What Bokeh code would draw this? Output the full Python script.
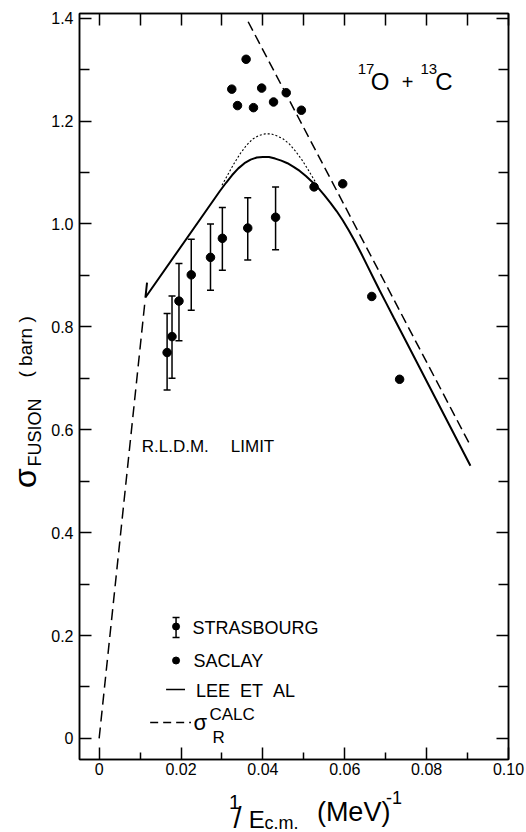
import math
from bokeh.plotting import figure
from bokeh.layouts import row, column
from bokeh.models import Range1d, LinearAxis, FixedTicker, Label
from bokeh.core.properties import value
from bokeh.embed import file_html
from bokeh.resources import INLINE

# ---------------- data ----------------
stras_x = [0.0166, 0.0178, 0.0195, 0.0225, 0.0272, 0.0301, 0.0363, 0.0431]
stras_y = [0.750, 0.781, 0.850, 0.901, 0.935, 0.972, 0.992, 1.013]
stras_hi = [0.826, 0.860, 0.923, 0.970, 1.000, 1.032, 1.051, 1.072]
stras_lo = [0.677, 0.700, 0.773, 0.832, 0.871, 0.910, 0.930, 0.950]

saclay_x = [0.0324, 0.0338, 0.0359, 0.0377, 0.0397, 0.0426, 0.0457, 0.0494,
            0.0525, 0.0595, 0.0666, 0.0734]
saclay_y = [1.262, 1.230, 1.320, 1.226, 1.264, 1.237, 1.255, 1.221,
            1.072, 1.078, 0.859, 0.698]

lee_x = [0.0117, 0.0113, 0.0295, 0.0310, 0.0325, 0.0340, 0.0355, 0.0370,
         0.0385, 0.0400, 0.0415, 0.0430, 0.0445, 0.0460, 0.0475, 0.0490,
         0.0505, 0.0520, 0.0535, 0.0550, 0.0565, 0.0580, 0.0595, 0.0610,
         0.0625, 0.0640, 0.0655, 0.0670, 0.0685, 0.0700, 0.0720, 0.0741, 0.0907]
lee_y = [0.886, 0.857, 1.064, 1.080, 1.095, 1.108, 1.118, 1.125,
         1.129, 1.130, 1.130, 1.127, 1.123, 1.118, 1.111, 1.103,
         1.093, 1.082, 1.070, 1.056, 1.041, 1.025, 1.007, 0.987,
         0.966, 0.943, 0.919, 0.895, 0.871, 0.848, 0.817, 0.785, 0.530]

dot_x = [0.0300, 0.0316, 0.0330, 0.0345, 0.0360, 0.0375, 0.0390, 0.0405,
         0.0420, 0.0435, 0.0450, 0.0465, 0.0480, 0.0495, 0.0510, 0.0525, 0.0535]
dot_y = [1.075, 1.098, 1.118, 1.137, 1.153, 1.165, 1.172, 1.175,
         1.175, 1.171, 1.165, 1.155, 1.141, 1.125, 1.106, 1.086, 1.072]

sigr_x = [0.0364, 0.0907]
sigr_y = [1.393, 0.569]

rldm_x = [0.0, 0.0112]
rldm_y = [0.0, 0.850]

x_ticks = [0.0, 0.02, 0.04, 0.06, 0.08, 0.10]
x_tick_labels = ["0", "0.02", "0.04", "0.06", "0.08", "0.10"]
x_minor = [0.01, 0.03, 0.05, 0.07, 0.09]
y_ticks = [0.0, 0.2, 0.4, 0.6, 0.8, 1.0, 1.2, 1.4]
y_tick_labels = ["0", "0.2", "0.4", "0.6", "0.8", "1.0", "1.2", "1.4"]
y_minor = [0.1, 0.3, 0.5, 0.7, 0.9, 1.1, 1.3]

# ---------------- layout ----------------
XMIN, XMAX = -0.0048, 0.1
YMIN, YMAX = -0.041, 1.409
PAGE_W, PAGE_H = 526, 832
LEFT_W = 48
MAIN_W = PAGE_W - LEFT_W          # 478
MAIN_H = 780
BOT_H = PAGE_H - MAIN_H           # 52
BL, BR, BT, BB = 29, 18, 13, 21
FL, FT = LEFT_W + BL, BT          # frame left/top in page pixels
FW, FH = MAIN_W - BL - BR, MAIN_H - BT - BB
FONT = "Liberation Sans"


def px2x(sx):
    return XMIN + (sx - FL) / FW * (XMAX - XMIN)


def px2y(sy):
    return YMAX - (sy - FT) / FH * (YMAX - YMIN)


p = figure(width=MAIN_W, height=MAIN_H, x_range=Range1d(XMIN, XMAX),
           y_range=Range1d(YMIN, YMAX), output_backend="svg", toolbar_location=None,
           min_border_left=BL, min_border_right=BR, min_border_top=BT, min_border_bottom=BB)
p.grid.visible = False
p.outline_line_color = "black"
p.outline_line_width = 1.5
p.background_fill_color = "white"
p.border_fill_color = "white"


def style(ax, ticks, minor, labels, tick_len, minor_len, show_labels):
    ax.ticker = FixedTicker(ticks=ticks, minor_ticks=minor)
    ax.axis_line_color = "black"
    ax.axis_line_width = 1.5
    ax.major_tick_in = tick_len
    ax.major_tick_out = 0
    ax.minor_tick_in = minor_len
    ax.minor_tick_out = 0
    ax.major_tick_line_width = 1.5
    ax.minor_tick_line_width = 1.5
    ax.major_tick_line_color = "black"
    ax.minor_tick_line_color = "black"
    ax.major_label_text_font = FONT
    ax.major_label_text_color = "black"
    if show_labels:
        ax.major_label_overrides = {t: l for t, l in zip(ticks, labels)}
        ax.major_label_text_font_size = "16px"
    else:
        ax.major_label_overrides = {t: "" for t in ticks}
        ax.major_label_text_font_size = "1px"
        ax.major_label_standoff = 0


xb = p.xaxis[0]
style(xb, x_ticks, x_minor, x_tick_labels, 12, 7, True)
xb.major_label_standoff = 3
yl = p.yaxis[0]
style(yl, y_ticks, y_minor, y_tick_labels, 12, 10, True)
yl.major_label_standoff = 6

xt = LinearAxis()
style(xt, sorted(x_ticks + x_minor), [], None, 12, 0, False)
p.add_layout(xt, "above")
yr = LinearAxis()
style(yr, y_ticks, y_minor, None, 12, 10, False)
p.add_layout(yr, "right")

# ---------------- curves ----------------
p.line(rldm_x, rldm_y, line_color="black", line_width=1.5, line_dash="11 6")
p.line(sigr_x, sigr_y, line_color="black", line_width=1.5, line_dash="10 5")
p.line(dot_x, dot_y, line_color="black", line_width=1.1, line_dash="2 2")
p.line(lee_x, lee_y, line_color="black", line_width=2)

# Strasbourg with error bars
p.segment(stras_x, stras_lo, stras_x, stras_hi, line_color="black", line_width=1.5)
p.scatter(stras_x, stras_hi, marker="dash", size=7, line_color="black", line_width=1.5)
p.scatter(stras_x, stras_lo, marker="dash", size=7, line_color="black", line_width=1.5)
p.scatter(stras_x, stras_y, size=8.5, color="black")

# Saclay
p.scatter(saclay_x, saclay_y, size=8.5, color="black")

# ---------------- legend (manual) ----------------
lx = px2x(174)
p.segment([lx], [px2y(637)], [lx], [px2y(617)], line_color="black", line_width=1.5)
p.scatter([lx, lx], [px2y(617), px2y(637)], marker="dash", size=7, line_color="black", line_width=1.5)
p.scatter([lx], [px2y(626)], size=7, color="black")
p.scatter([lx], [px2y(660)], size=7, color="black")
p.line([px2x(164), px2x(183)], [px2y(689), px2y(689)], line_color="black", line_width=1.5)
p.line([px2x(148), px2x(189)], [px2y(722), px2y(722)], line_color="black", line_width=1.5,
       line_dash="8 5")


def lab(sx, sy, txt, size, align="left", baseline="middle"):
    p.add_layout(Label(x=px2x(sx), y=px2y(sy), text=txt, text_font=FONT,
                       text_font_size=f"{size}px", text_align=align,
                       text_baseline=baseline, text_color="black"))


lab(190.5, 627, "STRASBOURG", 18)
lab(191.5, 660, "SACLAY", 18)
lab(194, 690, "LEE\u00a0\u00a0ET\u00a0\u00a0AL", 18)
lab(191.5, 722, "σ", 22)
lab(207.5, 714, "CALC", 17)
lab(210.5, 737, "R", 17)

# reaction label
lab(356.5, 68, "17", 15)
lab(369.5, 81, "O", 24)
lab(406.5, 81, "+", 20, align="center")
lab(419.5, 68, "13", 15)
lab(434.5, 81, "C", 24)

# R.L.D.M. limit
lab(139.5, 446, "R.L.D.M.", 17)
lab(229, 446, "LIMIT", 17)

# ---------------- y-axis title panel ----------------
left = figure(width=LEFT_W, height=PAGE_H, x_range=Range1d(0, LEFT_W), y_range=Range1d(0, PAGE_H),
              output_backend="svg", toolbar_location=None, min_border=0,
              x_axis_location=None, y_axis_location=None)
left.grid.visible = False
left.outline_line_color = None
left.border_fill_color = "white"


def ltxt(sx, sy, txt, size, align):
    left.text(x=[sx], y=[PAGE_H - sy], text=[txt], text_font=value(FONT),
              text_font_size=f"{size}px", text_align=align, text_baseline="middle",
              angle=math.pi / 2, text_color="black")


ltxt(24, 477.5, "σ", 32, "center")
ltxt(34.5, 466, "FUSION", 18, "left")
ltxt(25, 377, "(\u00a0barn\u00a0)", 19, "left")

# ---------------- x-axis title panel ----------------
bot = figure(width=MAIN_W, height=BOT_H, x_range=Range1d(LEFT_W, PAGE_W),
             y_range=Range1d(MAIN_H, PAGE_H), output_backend="svg", toolbar_location=None,
             min_border=0, x_axis_location=None, y_axis_location=None)
bot.grid.visible = False
bot.outline_line_color = None
bot.border_fill_color = "white"


def btxt(sx, sy, txt, size, align="left"):
    bot.text(x=[sx], y=[PAGE_H + MAIN_H - sy], text=[txt], text_font=value(FONT),
             text_font_size=f"{size}px", text_align=align, text_baseline="alphabetic",
             text_color="black")


btxt(214.5, 801, "1", 20)
btxt(224, 817, "/", 29, align="center")
btxt(236.5, 819, "E", 24)
btxt(254, 822, "c.m.", 18)
btxt(312.5, 811, "(MeV)", 27)
btxt(389.5, 797, "-1", 18)

layout = row(left, column(p, bot))
open("out.html", "w").write(file_html(layout, INLINE))
